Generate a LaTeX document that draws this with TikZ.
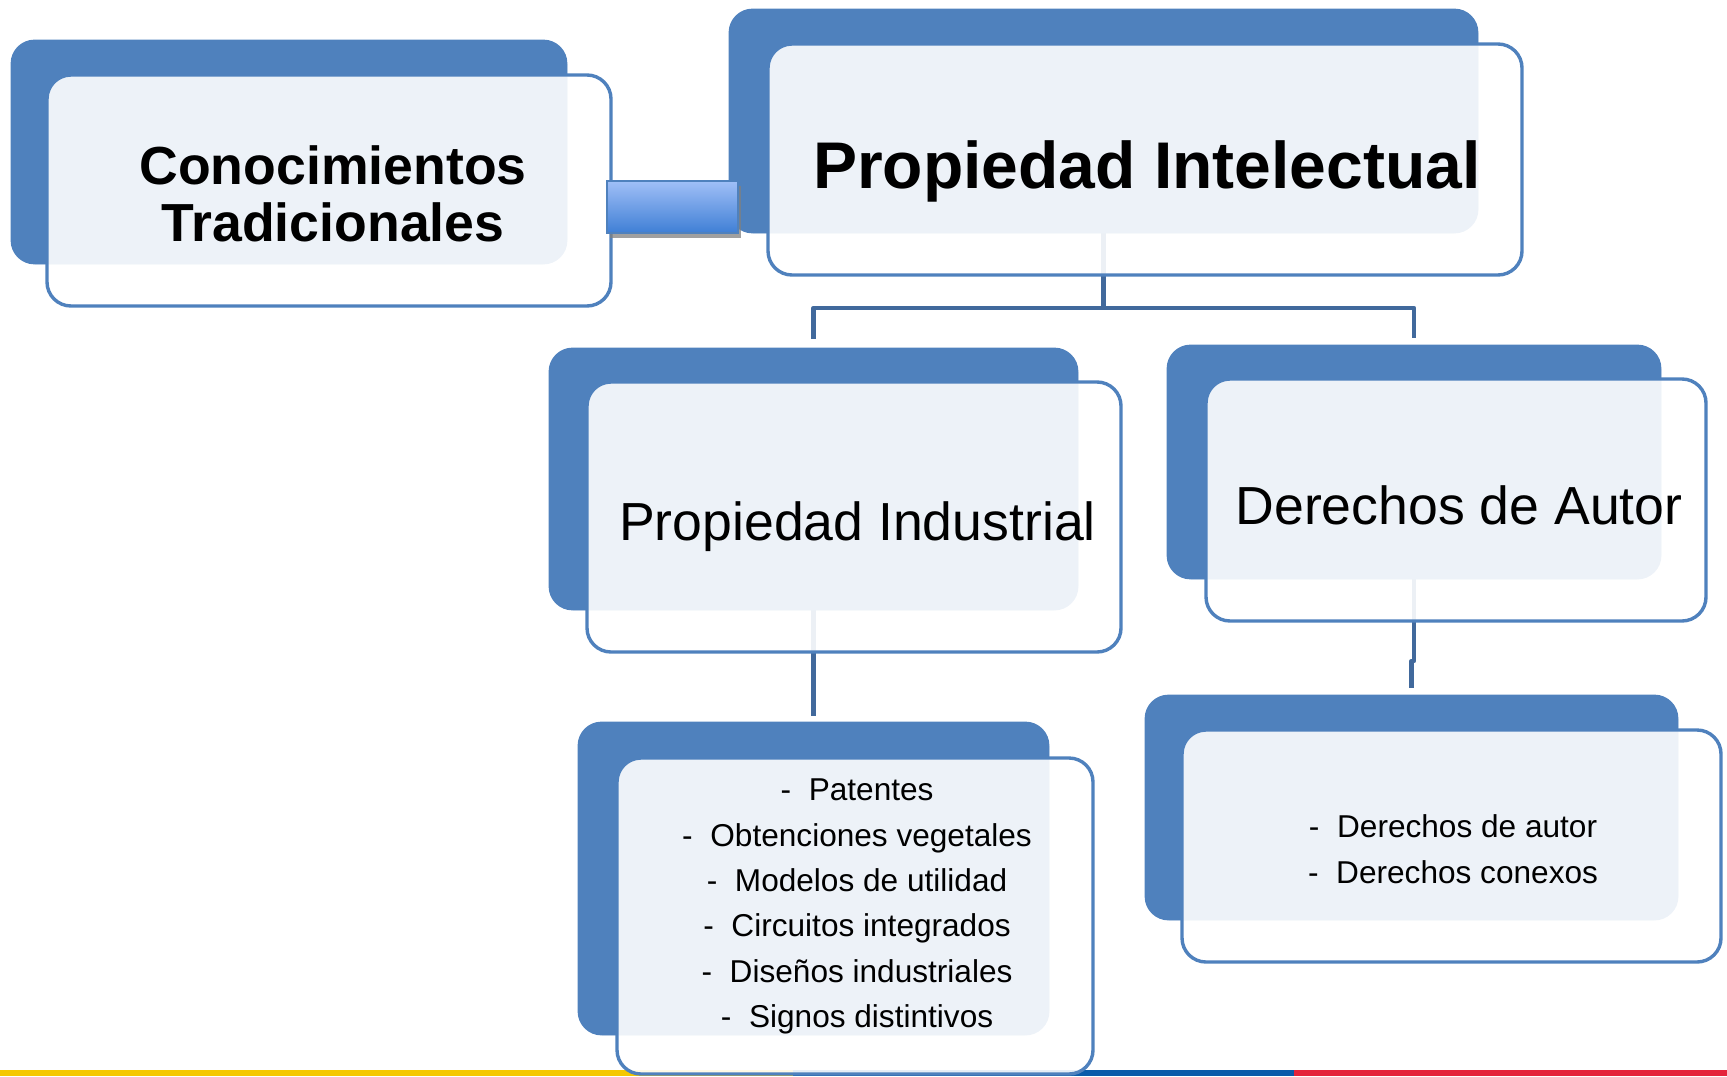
\documentclass[tikz,border=0pt]{standalone}
\usepackage{fontspec}
\setmainfont{Liberation Sans}
\usetikzlibrary{fit,calc,shadows}
\definecolor{boxblue}{HTML}{4F81BD}
\definecolor{connblue}{HTML}{41699C}
\definecolor{lightbar}{HTML}{A0BFF7}
\definecolor{darkbar}{HTML}{3F7FD5}
\definecolor{flagyellow}{HTML}{F5C800}
\definecolor{flagblue}{HTML}{0A5BAA}
\definecolor{flagred}{HTML}{E4243B}
\tikzset{
  backbox/.style={fill=boxblue, draw=none, rounded corners=12pt, inner sep=0pt},
  card/.style={draw=boxblue, line width=1.7pt, fill=white, fill opacity=0.9, rounded corners=12pt, inner sep=0pt},
  conn/.style={draw=connblue, line width=2.2pt, line join=round},
  titlebold/.style={font=\fontsize{33}{36}\selectfont\bfseries, inner sep=0pt},
  subbold/.style={font=\fontsize{26.8}{28.3}\selectfont\bfseries, align=center, inner sep=0pt},
  plainlabel/.style={font=\fontsize{26.8}{30}\selectfont, inner sep=0pt},
  listtext/.style={font=\fontsize{15.8}{22.7}\selectfont, align=center, inner sep=0pt},
}
\begin{document}
\begin{tikzpicture}[x=0.5pt,y=-0.5pt]
\useasboundingbox (0,0) rectangle (1727,1076);
% bottom stripe
\fill[flagyellow] (0,1070) rectangle (793,1076);
\fill[flagblue] (793,1070) rectangle (1294,1076);
\fill[flagred] (1294,1070) rectangle (1727,1076);

\coordinate (j1) at (1103.5,308);
\coordinate (j2) at (1411.5,661);

% back boxes
\node[backbox, fit={(11,40) (567,264)}] (b1) {};
\node[backbox, fit={(729,9) (1478,233)}] (b2) {};
\node[backbox, fit={(549,348) (1078,610)}] (b3) {};
\node[backbox, fit={(1167,345) (1661,579)}] (b4) {};
\node[backbox, fit={(578,722) (1049,1035)}] (b5) {};
\node[backbox, fit={(1145,695) (1678,920)}] (b6) {};

% connectors
\draw[conn, shorten >=4.5pt] (b2.south) -- (j1) -| (b3.north);
\draw[conn, shorten >=3.5pt] (j1) -| (b4.north);
\draw[conn, shorten >=3pt] (b3.south) -- (b5.north);
\draw[conn, shorten >=3.5pt] (b4.south) -- (b4.south |- j2) -- (j2) -- (b6.north);

% back boxes again over the connector ends
\foreach \b in {b1,b2,b3,b4,b5,b6}
  \fill[boxblue, rounded corners=12pt] (\b.north west) rectangle (\b.south east);

% front cards
\node[card, fit={(47,75) (611,306)}] (c1) {};
\node[card, fit={(768,44) (1522,275)}] (c2) {};
\node[card, fit={(587,382) (1121,652)}] (c3) {};
\node[card, fit={(1206,379) (1706,621)}] (c4) {};
\node[card, fit={(617,758) (1093,1074)}] (c5) {};
\node[card, fit={(1182,730) (1721,962)}] (c6) {};

% link bar between the two top boxes
\node[fit={(607,181) (738,233)}, inner sep=0pt, top color=lightbar, bottom color=darkbar,
      draw=boxblue, line width=0.6pt,
      drop shadow={shadow xshift=1.5pt, shadow yshift=-2.5pt, fill=black!50, opacity=0.75}] (bar) {};

% texts
\node[subbold] (t1) at (333,194) {Conocimientos\\Tradicionales};
\node[titlebold, anchor=base] (t2) at (1147,188.5) {Propiedad Intelectual};
\node[plainlabel, anchor=base] (t3) at (857.5,540) {Propiedad Industrial};
\node[plainlabel, anchor=base] (t4) at (1459,524) {Derechos de Autor};
\node[listtext] (t5) at (857,906.5) {-\hspace{0.56em}Patentes\\
-\hspace{0.56em}Obtenciones vegetales\\
-\hspace{0.56em}Modelos de utilidad\\
-\hspace{0.56em}Circuitos integrados\\
-\hspace{0.56em}Diseños industriales\\
-\hspace{0.56em}Signos distintivos};
\node[listtext, font=\fontsize{15.8}{23}\selectfont] (t6) at (1453,849) {-\hspace{0.56em}Derechos de autor\\
-\hspace{0.56em}Derechos conexos};
\end{tikzpicture}
\end{document}
